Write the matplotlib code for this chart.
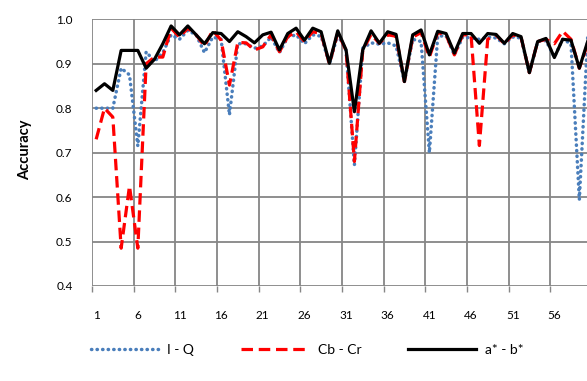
import numpy as np
import matplotlib
matplotlib.use("Agg")
import matplotlib.pyplot as plt
from matplotlib.ticker import FixedLocator

plt.rcParams['font.family'] = ['Lato', 'DejaVu Sans']

# --- data (image index 1..60) ---
idx = np.arange(1, 61)

iq = [0.80, 0.80, 0.80, 0.89, 0.875, 0.715, 0.927, 0.905, 0.925, 0.965,
      0.955, 0.975, 0.965, 0.925, 0.96, 0.955, 0.785, 0.945, 0.945, 0.935,
      0.94, 0.96, 0.925, 0.96, 0.965, 0.945, 0.965, 0.962, 0.90, 0.965,
      0.93, 0.672, 0.935, 0.947, 0.944, 0.947, 0.94, 0.86, 0.955, 0.95,
      0.70, 0.962, 0.963, 0.92, 0.96, 0.958, 0.955, 0.96, 0.958, 0.945,
      0.96, 0.958, 0.88, 0.95, 0.952, 0.915, 0.955, 0.945, 0.594, 0.96]

cbcr = [0.73, 0.80, 0.78, 0.485, 0.625, 0.485, 0.90, 0.915, 0.915, 0.98,
        0.96, 0.98, 0.965, 0.94, 0.975, 0.953, 0.852, 0.948, 0.947, 0.931,
        0.938, 0.965, 0.927, 0.961, 0.972, 0.95, 0.972, 0.968, 0.90, 0.97,
        0.93, 0.68, 0.93, 0.966, 0.946, 0.965, 0.962, 0.86, 0.96, 0.97,
        0.915, 0.97, 0.965, 0.92, 0.965, 0.965, 0.716, 0.955, 0.965, 0.945,
        0.965, 0.96, 0.88, 0.95, 0.955, 0.945, 0.973, 0.955, 0.89, 0.945]

ab = [0.84, 0.855, 0.84, 0.93, 0.93, 0.93, 0.89, 0.91, 0.945, 0.985,
      0.965, 0.985, 0.965, 0.945, 0.97, 0.968, 0.95, 0.972, 0.961, 0.947,
      0.965, 0.971, 0.931, 0.968, 0.98, 0.953, 0.98, 0.972, 0.901, 0.974,
      0.931, 0.792, 0.931, 0.974, 0.946, 0.972, 0.966, 0.86, 0.965, 0.976,
      0.92, 0.973, 0.968, 0.924, 0.968, 0.968, 0.946, 0.968, 0.966, 0.946,
      0.968, 0.961, 0.88, 0.95, 0.957, 0.914, 0.955, 0.953, 0.89, 0.95]

labels = ['I - Q', 'Cb - Cr', 'a* - b*']

fig = plt.figure(figsize=(5.87, 3.81), dpi=100)
ax = fig.add_axes([92 / 587, 95 / 381, 495 / 587, 266.7 / 381])

ax.plot(idx, iq, color='#4a7ebb', lw=2.5, linestyle=(0, (0.1, 1.5)),
        dash_capstyle='round', label=labels[0])
ax.plot(idx, cbcr, color='#ff0000', lw=2.3, linestyle=(0, (3.6, 1.8)),
        label=labels[1])
ax.plot(idx, ab, color='black', lw=2.3, label=labels[2])

ax.set_xlim(0.5, 59.92)
ax.set_ylim(0.4, 1.0)

# category axis: labels on categories, ticks/gridlines between them
ax.xaxis.set_major_locator(FixedLocator(np.arange(1, 60, 5)))
ax.xaxis.set_minor_locator(FixedLocator(np.arange(0.5, 60, 5)))
ax.set_xticklabels([str(v) for v in range(1, 60, 5)])
ax.tick_params(axis='x', which='major', length=0, pad=17, labelsize=8.5)
ax.tick_params(axis='x', which='minor', length=4, color='#868686', width=1)
ax.set_yticks(np.arange(0.4, 1.01, 0.1))
ax.set_yticklabels(['%.1f' % v for v in np.arange(0.4, 1.01, 0.1)])
ax.tick_params(axis='y', length=0, pad=14, labelsize=8.5)

ax.grid(True, axis='y', color='#868686', lw=1.3)
ax.grid(True, axis='x', which='minor', color='#868686', lw=1.3)
ax.set_axisbelow(True)
for s in ax.spines.values():
    s.set_visible(False)

fig.text(25 / 587, 1 - 150 / 381, 'Accuracy', rotation=90, fontsize=10.5,
         fontweight='bold', ha='center', va='center')

fig.legend(loc='center', bbox_to_anchor=(0.523, 0.081), ncol=3, frameon=False,
           fontsize=10, handlelength=4.9, columnspacing=3.4, handletextpad=0.6)

fig.savefig('out.png', dpi=100)
